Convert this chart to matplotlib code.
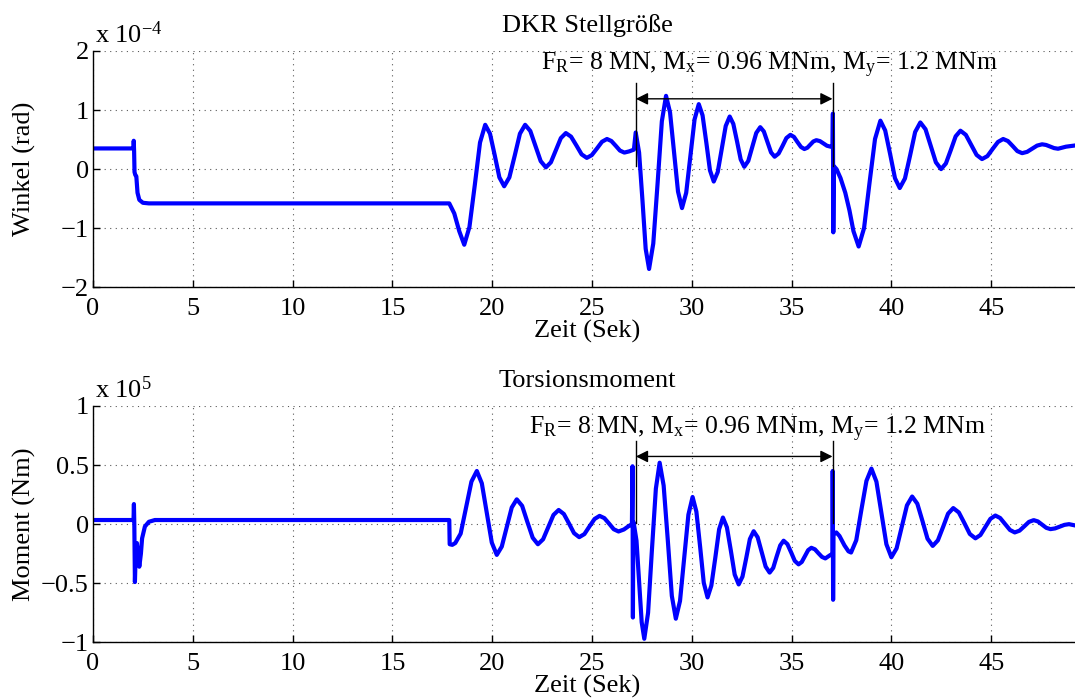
import matplotlib
matplotlib.use("Agg")
import matplotlib.pyplot as plt
from matplotlib.ticker import FuncFormatter

plt.rcParams['font.family'] = ['Liberation Serif', 'DejaVu Serif']
plt.rcParams['mathtext.fontset'] = 'custom'
plt.rcParams['mathtext.rm'] = 'Liberation Serif'
plt.rcParams['mathtext.it'] = 'Liberation Serif:italic'

# DKR Stellgroesse (angle, in units of 1e-4 rad)
t_angle = [0, 2.03, 2.04, 2.06, 2.08, 2.12, 2.17, 2.23, 2.32, 2.5, 2.8, 17.85, 18.1, 18.35,
           18.6, 18.86, 19.13, 19.39,
           19.65, 19.89, 20.13, 20.36,
           20.6, 20.86, 21.13, 21.39,
           21.65, 21.91, 22.17, 22.43,
           22.69, 22.94, 23.19, 23.44,
           23.69, 23.95, 24.22, 24.48,
           24.74, 24.99, 25.25, 25.5,
           25.75, 25.97, 26.19, 26.4,
           26.62, 26.86, 27.1, 27.15,
           27.19, 27.36, 27.53, 27.69,
           27.86, 28.07, 28.29, 28.5,
           28.71, 28.91, 29.11, 29.31,
           29.51, 29.72, 29.93, 30.14,
           30.35, 30.54, 30.73, 30.91,
           31.1, 31.3, 31.5, 31.7,
           31.9, 32.08, 32.27, 32.45,
           32.63, 32.83, 33.03, 33.23,
           33.43, 33.61, 33.79, 33.97,
           34.15, 34.35, 34.55, 34.74,
           34.94, 35.12, 35.29, 35.47,
           35.64, 35.79, 35.94, 36.09,
           36.24, 36.42, 36.6, 36.77,
           36.95, 37.05, 37.07, 37.09,
           37.12, 37.25, 37.45, 37.69,
           37.9, 38.1,
           38.36, 38.63, 38.9, 39.18,
           39.45, 39.69, 39.94, 40.18,
           40.42, 40.68, 40.94, 41.19,
           41.45, 41.71, 41.97, 42.23,
           42.49, 42.73, 42.98, 43.22,
           43.46, 43.73, 44.0, 44.27,
           44.54, 44.81, 45.07, 45.34,
           45.6, 45.84, 46.08, 46.31,
           46.55, 46.8, 47.05, 47.3,
           47.55, 47.75, 47.95, 48.15,
           48.35, 48.75, 49.2, 49.5]
angle = [0.35, 0.35, 0.48, 0.30, -0.05, -0.10, -0.12, -0.40, -0.52, -0.57, -0.58, -0.58, -0.75, -1.05,
         -1.28, -0.98, -0.265, 0.45,
         0.75, 0.60, 0.23, -0.14,
         -0.29, -0.14, 0.23, 0.60,
         0.75, 0.645, 0.39, 0.135,
         0.03, 0.115, 0.32, 0.525,
         0.61, 0.55, 0.40, 0.25,
         0.19, 0.237, 0.35, 0.463,
         0.51, 0.476, 0.395, 0.314,
         0.28, 0.30, 0.33, 0.50,
         0.62, 0.28, -0.535, -1.35,
         -1.69, -1.26, -0.225, 0.81,
         1.24, 0.96, 0.29, -0.38,
         -0.66, -0.40, 0.22, 0.843,
         1.10, 0.91, 0.445, -0.02,
         -0.21, -0.05, 0.34, 0.73,
         0.89, 0.766, 0.465, 0.164,
         0.04, 0.138, 0.375, 0.612,
         0.71, 0.637, 0.46, 0.283,
         0.21, 0.264, 0.395, 0.526,
         0.58, 0.545, 0.46, 0.375,
         0.34, 0.362, 0.415, 0.468,
         0.49, 0.474, 0.435, 0.396,
         0.38, 0.38, 0.94, -1.07,
         0.05, 0.0, -0.15, -0.40,
         -0.70, -1.05,
         -1.31, -1.0, -0.245, 0.51,
         0.82, 0.654, 0.25, -0.154,
         -0.32, -0.158, 0.235, 0.628,
         0.79, 0.675, 0.395, 0.115,
         0.0, 0.095, 0.325, 0.555,
         0.65, 0.58, 0.41, 0.24,
         0.17, 0.22, 0.34, 0.46,
         0.51, 0.475, 0.39, 0.305,
         0.27, 0.292, 0.345, 0.398,
         0.42, 0.409, 0.383, 0.356,
         0.345, 0.38, 0.40, 0.39]

# Torsionsmoment (in units of 1e5 Nm)
t_moment = [0, 2.03, 2.05, 2.07, 2.1, 2.14, 2.2, 2.26, 2.32, 2.4, 2.46, 2.6, 2.8, 3.1,
            17.85, 17.87, 18.0,
            18.15, 18.42, 18.69, 18.96,
            19.23, 19.48, 19.73, 19.98,
            20.23, 20.48, 20.73, 20.98,
            21.23, 21.5, 21.76, 22.03,
            22.29, 22.55, 22.81, 23.07,
            23.33, 23.59, 23.85, 24.1,
            24.36, 24.62, 24.87, 25.13,
            25.38, 25.62, 25.86, 26.09,
            26.33, 26.6, 26.85, 27.0,
            27.03, 27.05, 27.07, 27.1,
            27.23, 27.36, 27.49,
            27.62, 27.81, 28.0, 28.2,
            28.39, 28.59, 28.8, 29.0,
            29.2, 29.41, 29.62, 29.83,
            30.04, 30.23, 30.42, 30.6,
            30.79, 30.98, 31.18, 31.37,
            31.56, 31.76, 31.96, 32.15,
            32.35, 32.54, 32.73, 32.91,
            33.1, 33.3, 33.5, 33.7,
            33.9, 34.08, 34.25, 34.43,
            34.6, 34.79, 34.98, 35.16,
            35.35, 35.51, 35.67, 35.83,
            35.99, 36.17, 36.34, 36.52,
            36.69, 36.95, 37.05, 37.06,
            37.08, 37.1, 37.24, 37.4,
            37.65, 37.85,
            37.98, 38.24, 38.49, 38.75,
            39.0, 39.25, 39.5, 39.75,
            40.0, 40.26, 40.52, 40.78,
            41.04, 41.3, 41.56, 41.81,
            42.07, 42.33, 42.59, 42.84,
            43.1, 43.38, 43.66, 43.93,
            44.21, 44.46, 44.71, 44.96,
            45.21, 45.45, 45.7, 45.94,
            46.18, 46.42, 46.66, 46.89,
            47.13, 47.34, 47.55, 47.76,
            47.97, 48.2, 48.44, 48.67,
            48.9, 49.2, 49.5]
moment = [0.035, 0.035, 0.17, 0.0, -0.49, -0.25, -0.16, -0.25, -0.36, -0.25, -0.12, -0.02, 0.02, 0.035,
          0.035, -0.17, -0.175,
          -0.16, -0.08, 0.14, 0.36,
          0.45, 0.346, 0.095, -0.156,
          -0.26, -0.19, -0.025, 0.141,
          0.21, 0.155, 0.02, -0.115,
          -0.17, -0.128, -0.025, 0.078,
          0.12, 0.086, 0.005, -0.076,
          -0.11, -0.084, -0.02, 0.044,
          0.07, 0.051, 0.004, -0.043,
          -0.062, -0.045, -0.015, 0.0,
          0.49, -0.79, 0.02, 0.0,
          -0.14, -0.485, -0.83,
          -0.97, -0.75, -0.225, 0.30,
          0.52, 0.327, -0.14, -0.607,
          -0.80, -0.65, -0.285, 0.08,
          0.23, 0.106, -0.195, -0.496,
          -0.62, -0.52, -0.282, -0.043,
          0.056, -0.027, -0.227, -0.427,
          -0.51, -0.444, -0.285, -0.126,
          -0.06, -0.111, -0.235, -0.359,
          -0.41, -0.37, -0.275, -0.18,
          -0.14, -0.169, -0.24, -0.311,
          -0.34, -0.32, -0.27, -0.22,
          -0.20, -0.213, -0.245, -0.277,
          -0.29, -0.26, -0.26, 0.45,
          -0.64, -0.09, -0.07, -0.10,
          -0.18, -0.23,
          -0.24, -0.136, 0.115, 0.366,
          0.47, 0.36, 0.095, -0.17,
          -0.28, -0.205, -0.023, 0.159,
          0.234, 0.173, 0.025, -0.123,
          -0.184, -0.137, -0.024, 0.089,
          0.136, 0.099, 0.008, -0.083,
          -0.12, -0.092, -0.024, 0.045,
          0.073, 0.052, 0.0, -0.049,
          -0.07, -0.055, -0.018, 0.019,
          0.034, 0.023, -0.004, -0.031,
          -0.042, -0.036, -0.021, -0.006,
          0.0, -0.01, -0.025]

load_start, load_end = 27.2, 37.05
load_text = r'F$_{\rm R}$= 8 MN, M$_{\rm x}$= 0.96 MNm, M$_{\rm y}$= 1.2 MNm'

panels = [
    dict(t=t_angle, y=angle, title='DKR Stellgröße', ylabel='Winkel (rad)',
         yticks=[-2, -1, 0, 1, 2], ylim=(-2, 2), expo=r'x 10$^{-4}$',
         bracket=(0.05, 1.46), arrow_y=1.19, text_pos=(33.9, 1.75),
         rect=[93/1075, 0.5896, 988/1075, 0.3376]),
    dict(t=t_moment, y=moment, title='Torsionsmoment', ylabel='Moment (Nm)',
         yticks=[-1, -0.5, 0, 0.5, 1], ylim=(-1, 1), expo=r'x 10$^{5}$',
         bracket=(0.01, 0.70), arrow_y=0.573, text_pos=(33.3, 0.80),
         rect=[93/1075, 0.0824, 988/1075, 0.3376]),
]

fig = plt.figure(figsize=(10.75, 7), dpi=100)
fmt = FuncFormatter(lambda v, p: ('%g' % v).replace('-', '\u2212'))

for p in panels:
    ax = fig.add_axes(p['rect'])
    ax.plot(p['t'], p['y'], color=(0, 0, 1), lw=3.0, solid_joinstyle='round')
    ax.set_xlim(0, 49.5)
    ax.set_ylim(*p['ylim'])
    ax.set_xticks(range(0, 50, 5))
    ax.set_yticks(p['yticks'])
    ax.yaxis.set_major_formatter(fmt)
    ax.grid(True, linestyle=(0, (1, 4)), color='0.35', lw=0.8)
    for s in ['top', 'right']:
        ax.spines[s].set_visible(False)
    for s in ['left', 'bottom']:
        ax.spines[s].set_linewidth(1.0)
    ax.tick_params(direction='in', length=5, width=1, labelsize=19)
    ax.tick_params(axis='x', pad=8)
    ax.tick_params(axis='y', pad=3)
    ax.set_title(p['title'], fontsize=19, pad=14)
    ax.set_xlabel('Zeit (Sek)', fontsize=19)
    ax.xaxis.set_label_coords(0.5, -0.14)
    ax.xaxis.label.set_va('top')
    ax.set_ylabel(p['ylabel'], fontsize=19)
    ax.yaxis.set_label_coords(-0.058, 0.5)
    ax.text(0.002, 1.035, p['expo'], transform=ax.transAxes, fontsize=19,
            ha='left', va='baseline')

    lo, hi = p['bracket']
    ax.plot([load_start, load_start], [lo, hi], color='k', lw=1)
    ax.plot([load_end, load_end], [lo, hi], color='k', lw=1)
    ax.annotate('', xy=(load_end, p['arrow_y']), xytext=(load_start, p['arrow_y']),
                arrowprops=dict(arrowstyle='<|-|>', color='k', lw=1,
                                mutation_scale=18, shrinkA=0, shrinkB=0))
    ax.text(p['text_pos'][0], p['text_pos'][1], load_text, fontsize=18.5,
            ha='center', va='center')

fig.savefig('out.png', dpi=100)
